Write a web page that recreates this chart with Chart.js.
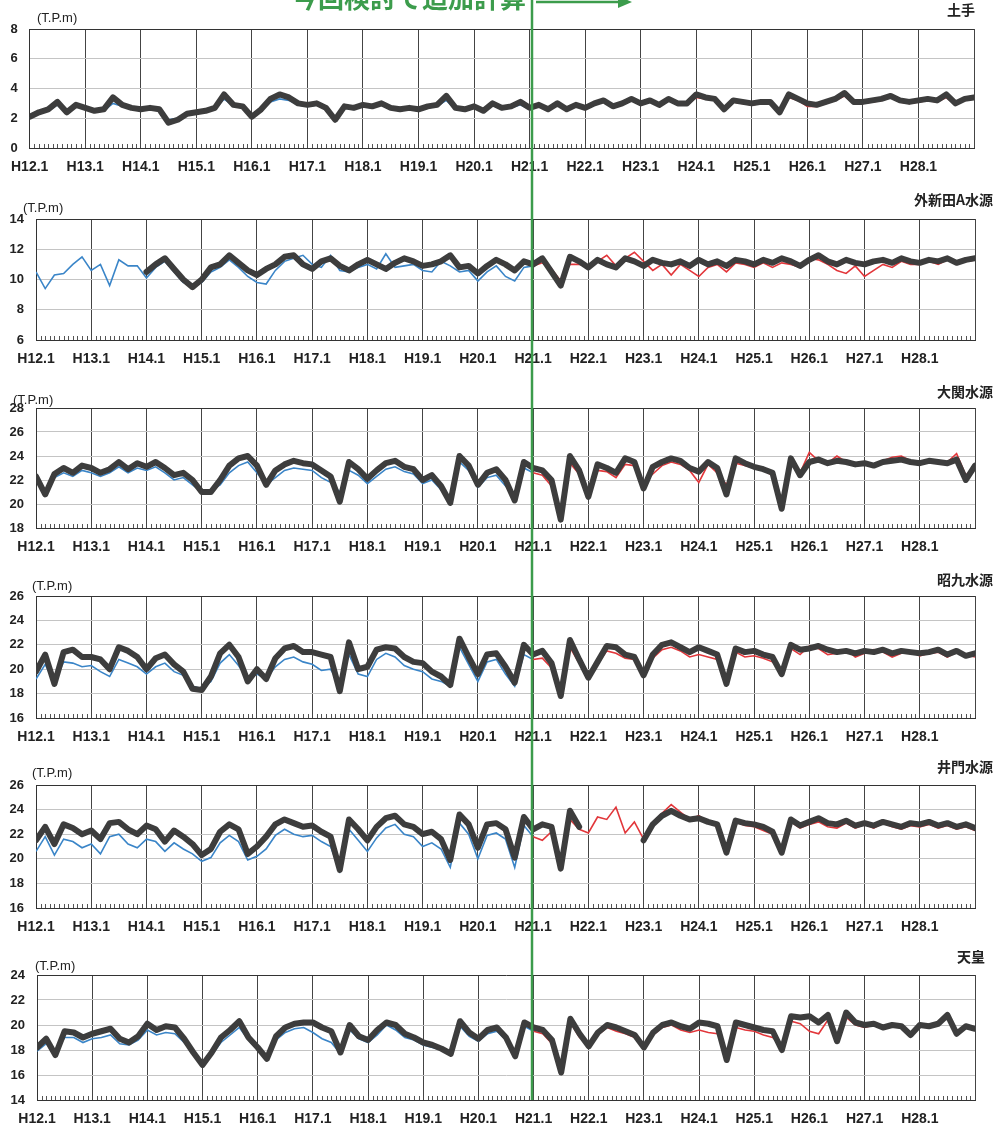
<!DOCTYPE html>
<html><head><meta charset="utf-8">
<script src="https://cdn.jsdelivr.net/npm/chart.js@4.4.1/dist/chart.umd.min.js"></script>
<style>
html,body{margin:0;padding:0;background:#fff;}
#wrap{position:relative;width:995px;height:1125px;overflow:hidden;background:#fff;}
.band{position:absolute;left:0;width:995px;}
</style></head><body><div id="wrap"></div>
<script>
// ---- data (values every 2 months: Jan, Mar, May, Jul, Sep, Nov) ----
const START_YEAR = 12, END_YEAR = 29, STEPS_PER_YEAR = 6, SPLIT_YEAR = 21;
const YEAR_TICKS = [12,13,14,15,16,17,18,19,20,21,22,23,24,25,26,27,28,29];
const PANEL_TITLES = ['土手','外新田A水源','大関水源','昭九水源','井門水源','天皇'];
const UNIT_LABEL = '(T.P.m)';
const BANNER = '今回検討で追加計算';

// 土手
const DOTE_OBS = [
 2.1,2.4,2.6,3.1,2.4,2.9, 2.7,2.5,2.6,3.4,2.9,2.7, 2.6,2.7,2.6,1.7,1.9,2.3,
 2.4,2.5,2.7,3.6,2.9,2.8, 2.1,2.6,3.3,3.6,3.4,3.0, 2.9,3.0,2.7,1.9,2.8,2.7,
 2.9,2.8,3.0,2.7,2.6,2.7, 2.6,2.8,2.9,3.5,2.7,2.6, 2.8,2.5,3.0,2.7,2.8,3.1,
 2.7,2.9,2.6,3.0,2.6,2.9, 2.7,3.0,3.2,2.8,3.0,3.3, 3.0,3.2,2.9,3.3,3.0,3.0,
 3.6,3.4,3.3,2.6,3.2,3.1, 3.0,3.1,3.1,2.4,3.6,3.3, 3.0,2.9,3.1,3.3,3.7,3.1,
 3.1,3.2,3.3,3.5,3.2,3.1, 3.2,3.3,3.2,3.6,3.0,3.3, 3.4];
const DOTE_PREV = [
 2.0,2.3,2.5,2.9,2.3,2.8, 2.6,2.4,2.5,3.0,2.8,2.6, 2.5,2.6,2.5,1.9,2.0,2.3,
 2.3,2.4,2.6,3.3,2.8,2.7, 2.2,2.5,3.1,3.3,3.2,2.9, 2.8,2.9,2.6,2.1,2.7,2.6,
 2.8,2.7,2.9,2.6,2.5,2.6, 2.5,2.7,2.8,3.2,2.6,2.5, 2.7,2.4,2.9,2.6,2.7,2.9, 2.6];
const DOTE_NEW = [
 2.6,2.8,2.5,2.9,2.5,2.8, 2.6,2.9,3.1,2.7,2.9,3.2, 2.9,3.1,2.8,3.2,2.9,2.9,
 3.4,3.3,3.2,2.7,3.1,3.0, 2.9,3.0,3.0,2.5,3.4,3.2, 2.8,2.8,3.0,3.2,3.5,3.0,
 3.0,3.1,3.2,3.4,3.1,3.0, 3.1,3.2,3.1,3.4,2.9,3.2, 3.3];

// 外新田A水源
const SOTO_OBS = [
 null,null,null,null,null,null, null,null,null,null,null,null,
 10.5,11.0,11.4,10.7,10.0,9.5, 10.0,10.8,11.0,11.6,11.1,10.6, 10.3,10.7,11.0,11.5,11.6,11.0,
 10.7,11.2,11.4,10.9,10.6,11.0, 11.3,11.0,10.7,11.1,11.4,11.2, 10.9,11.0,11.2,11.6,10.8,10.9,
 10.4,10.9,11.3,11.0,10.6,11.2, 11.0,11.4,10.5,9.6,11.5,11.2, 10.8,11.3,11.0,10.8,11.4,11.2,
 10.9,11.3,11.1,11.0,11.2,10.9, 11.3,11.0,11.2,10.9,11.3,11.2, 11.0,11.3,11.1,11.4,11.2,10.9,
 11.3,11.6,11.2,11.0,11.3,11.1, 11.0,11.2,11.3,11.1,11.4,11.2, 11.1,11.3,11.2,11.4,11.1,11.3, 11.4];
const SOTO_PREV = [
 10.5,9.4,10.3,10.4,11.0,11.5, 10.6,11.0,9.6,11.3,10.9,10.9, 10.1,10.8,11.2,10.5,9.8,9.7,
 9.8,10.5,10.8,11.3,10.8,10.2, 9.8,9.7,10.6,11.2,11.4,11.6, 11.0,10.8,11.6,10.6,10.5,10.8,
 11.0,10.7,11.7,10.8,10.9,11.0, 10.6,10.5,11.2,10.9,10.5,10.6, 9.9,10.5,10.9,10.2,9.9,10.8, 10.9];
const SOTO_NEW = [
 10.9,11.1,10.7,9.9,11.0,11.0, 10.9,11.2,11.6,10.9,11.4,11.8, 11.2,10.6,11.0,10.3,11.0,10.6,
 10.2,10.8,11.0,10.5,11.1,11.0, 10.8,11.1,10.8,11.1,11.0,10.8, 11.4,11.3,11.0,10.6,10.4,10.9,
 10.2,10.6,11.0,10.8,11.2,11.0, 11.0,11.2,11.0,11.3,11.0,11.2, 11.3];

// 大関水源
const OZEKI_OBS = [
 22.3,20.8,22.5,23.0,22.6,23.2, 23.0,22.6,22.9,23.5,22.9,23.4, 23.1,23.5,23.0,22.4,22.6,22.0,
 21.0,21.0,22.0,23.2,23.8,24.0, 23.2,21.6,22.8,23.3,23.6,23.4, 23.3,22.8,22.3,20.2,23.5,22.9,
 22.1,22.8,23.4,23.6,23.1,22.9, 22.0,22.4,21.5,20.1,24.0,23.2, 21.6,22.6,22.9,22.0,20.3,23.5,
 23.0,22.8,22.0,18.7,24.0,22.8, 20.6,23.3,23.0,22.6,23.8,23.5, 21.3,23.1,23.5,23.8,23.6,23.0,
 22.7,23.5,23.0,20.8,23.8,23.4, 23.1,22.9,22.6,19.6,23.8,22.4, 23.5,23.7,23.4,23.6,23.5,23.3,
 23.4,23.2,23.5,23.6,23.7,23.5, 23.4,23.6,23.5,23.4,23.7,22.0, 23.2];
const OZEKI_PREV = [
 22.0,21.0,22.2,22.6,22.3,22.8, 22.6,22.3,22.6,23.1,22.6,23.0, 22.8,23.1,22.6,22.0,22.2,21.6,
 21.0,21.1,21.6,22.6,23.2,23.5, 22.6,21.6,22.2,22.8,23.0,22.9, 22.8,22.2,21.8,21.0,22.8,22.4,
 21.7,22.3,22.9,23.1,22.7,22.5, 21.7,22.0,21.2,20.5,23.5,22.8, 21.4,22.2,22.4,21.5,20.8,23.0, 22.6];
const OZEKI_NEW = [
 22.6,22.4,21.5,19.5,23.4,22.5, 21.0,22.8,22.7,22.2,23.3,23.2, 21.8,22.5,23.2,23.5,23.3,22.8,
 21.8,23.3,22.6,21.6,23.4,23.2, 23.0,22.8,22.4,20.2,23.6,22.6, 24.3,23.6,23.4,24.0,23.5,23.4,
 23.5,23.3,23.6,23.9,24.0,23.6, 23.5,23.7,23.6,23.5,24.2,22.4, 23.0];

// 昭九水源
const SHOKU_OBS = [
 19.8,21.2,18.8,21.4,21.6,21.0, 21.0,20.8,20.0,21.8,21.5,21.0, 20.0,20.9,21.2,20.4,19.8,18.4,
 18.3,19.4,21.3,22.0,21.0,19.0, 20.0,19.2,20.9,21.7,21.9,21.4, 21.4,21.2,21.0,18.2,22.2,20.0,
 20.2,21.6,21.8,21.7,21.0,20.6, 20.5,19.8,19.4,18.7,22.5,21.0, 19.6,21.2,21.3,20.2,18.9,22.0,
 21.2,21.5,20.5,17.8,22.4,20.8, 19.3,20.6,21.9,21.8,21.2,21.0, 19.5,21.2,22.0,22.2,21.8,21.4,
 21.8,21.5,21.2,18.8,21.7,21.4, 21.5,21.2,21.0,19.6,22.0,21.6, 21.7,21.9,21.6,21.4,21.5,21.3,
 21.5,21.4,21.6,21.3,21.5,21.4, 21.3,21.4,21.6,21.2,21.5,21.1, 21.3];
const SHOKU_PREV = [
 19.2,20.4,18.9,20.6,20.5,20.2, 20.3,19.8,19.4,20.8,20.5,20.2, 19.6,20.2,20.5,19.8,19.5,18.6,
 18.4,19.0,20.5,21.2,20.3,19.2, 19.6,19.2,20.2,20.8,21.0,20.6, 20.4,19.9,20.0,18.8,21.2,19.6,
 19.4,20.8,21.3,21.0,20.3,20.0, 19.8,19.2,19.0,18.6,21.8,20.4, 19.0,20.6,20.8,19.6,18.6,21.2, 20.8];
const SHOKU_NEW = [
 20.8,20.9,20.1,18.2,21.8,20.5, 19.6,20.4,21.5,21.3,20.9,20.8, 19.8,20.9,21.6,21.8,21.5,21.0,
 21.2,21.0,20.8,19.2,21.4,21.0, 21.1,20.9,20.6,19.9,21.7,21.2, 21.9,21.7,21.2,21.3,21.6,21.0,
 21.3,21.6,21.4,21.0,21.3,21.5, 21.1,21.3,21.4,21.0,21.4,21.2, 21.0];

// 井門水源
const IDO_OBS = [
 21.5,22.6,21.2,22.8,22.5,22.0, 22.3,21.6,22.9,23.0,22.4,22.0, 22.7,22.4,21.4,22.3,21.8,21.2,
 20.3,20.8,22.2,22.8,22.4,20.4, 21.0,21.8,22.8,23.2,22.9,22.6, 22.7,22.2,21.8,19.1,23.2,22.4,
 21.5,22.6,23.3,23.5,22.8,22.6, 22.0,22.2,21.6,19.9,23.6,22.8, 20.9,22.8,22.9,22.4,20.1,23.4,
 22.4,22.8,22.6,19.2,23.9,22.6, null,null,null,null,null,null, 21.5,22.8,23.5,23.9,23.5,23.2,
 23.3,23.0,22.8,20.5,23.1,22.9, 22.8,22.6,22.2,20.5,23.2,22.7, 23.0,23.3,22.9,22.8,23.1,22.7,
 22.9,22.7,23.0,22.8,22.6,22.9, 22.8,23.0,22.7,22.9,22.6,22.8, 22.5];
const IDO_PREV = [
 20.6,21.8,20.3,21.6,21.4,20.9, 21.2,20.4,21.8,22.0,21.2,20.9, 21.6,21.4,20.6,21.3,20.8,20.4,
 19.8,20.1,21.3,21.9,21.4,19.9, 20.2,20.8,21.9,22.4,22.0,21.8, 21.9,21.4,21.0,19.0,22.4,21.5,
 20.6,21.7,22.5,22.8,22.0,21.8, 21.0,21.3,20.8,19.3,22.9,22.0, 20.0,21.9,22.1,21.6,19.3,22.7, 21.8];
const IDO_NEW = [
 21.8,21.5,22.2,19.5,23.2,22.4, 22.1,23.4,23.2,24.2,22.1,23.0, 21.6,22.9,23.7,24.4,23.8,23.2,
 23.5,23.0,22.6,20.8,23.0,22.7, 22.6,22.3,22.0,20.6,23.0,22.5, 22.8,23.0,22.6,22.5,22.9,22.5,
 22.8,22.5,22.9,22.6,22.4,22.7, 22.6,22.8,22.5,22.7,22.4,22.6, 22.3];

// 天皇
const TENNO_OBS = [
 18.2,18.9,17.6,19.5,19.4,19.0, 19.3,19.5,19.7,18.9,18.6,19.1, 20.1,19.6,19.9,19.8,18.9,17.8,
 16.8,17.8,19.0,19.6,20.3,19.0, 18.2,17.3,19.1,19.8,20.1,20.2, 20.2,19.8,19.5,17.8,20.0,19.1,
 18.8,19.6,20.2,20.0,19.3,19.0, 18.6,18.4,18.1,17.7,20.3,19.4, 18.9,19.6,19.8,19.0,17.5,20.2,
 19.8,19.6,18.8,16.2,20.5,19.3, 18.3,19.4,20.0,19.8,19.5,19.2, 18.2,19.4,20.0,20.2,19.9,19.7,
 20.2,20.1,19.9,17.2,20.2,20.0, 19.8,19.6,19.5,18.0,20.7,20.6, 20.7,20.2,20.8,18.7,21.0,20.2,
 20.0,20.1,19.8,20.0,19.9,19.2, 20.0,19.9,20.1,20.8,19.3,19.9, 19.7];
const TENNO_PREV = [
 17.9,18.5,17.8,19.0,19.0,18.6, 18.9,19.0,19.2,18.5,18.4,18.8, 19.6,19.2,19.4,19.3,18.6,17.8,
 17.0,17.6,18.6,19.2,19.8,18.8, 18.0,17.5,18.8,19.4,19.7,19.8, 19.4,18.9,18.6,17.7,19.6,18.9,
 18.6,19.2,20.0,19.6,19.0,18.8, 18.4,18.2,18.0,17.8,19.9,19.1, 18.7,19.3,19.5,18.8,17.6,19.9, 19.5];
const TENNO_NEW = [
 19.5,19.3,18.5,16.5,20.2,19.0, 18.5,19.2,19.8,19.5,19.3,19.0, 18.4,19.2,19.8,20.0,19.6,19.4,
 19.6,19.4,19.3,17.6,19.8,19.6, 19.5,19.2,19.0,18.3,20.3,20.1, 19.5,19.3,20.4,19.0,20.6,20.0,
 19.8,20.0,19.7,19.9,19.8,19.4, 19.9,19.8,20.0,20.6,19.5,19.8, 19.6];

const Y_RANGES = [[0,8],[6,14],[18,28],[16,26],[16,26],[14,24]];

// ---- layout (pixels) ----
const GREEN_X = 532;   // position of the hand-drawn divider across all panels
const PANELS = [
 {obs:DOTE_OBS, prev:DOTE_PREV, next:DOTE_NEW, band:[0,188], top:29, bottom:148, left:27, right:974, unitX:37, unitDy:-11, titleX:975, titleDy:-19},
 {obs:SOTO_OBS, prev:SOTO_PREV, next:SOTO_NEW, band:[188,378], top:219, bottom:340, left:36, right:975, unitX:23, unitDy:-11, titleX:993, titleDy:-19},
 {obs:OZEKI_OBS, prev:OZEKI_PREV, next:OZEKI_NEW, band:[378,567], top:408, bottom:528, left:36, right:975, unitX:13, unitDy:-8, titleX:993, titleDy:-16},
 {obs:SHOKU_OBS, prev:SHOKU_PREV, next:SHOKU_NEW, band:[567,757], top:596, bottom:718, left:36, right:975, unitX:32, unitDy:-10, titleX:993, titleDy:-16},
 {obs:IDO_OBS, prev:IDO_PREV, next:IDO_NEW, band:[757,945], top:785, bottom:908, left:36, right:975, unitX:32, unitDy:-12, titleX:993, titleDy:-18},
 {obs:TENNO_OBS, prev:TENNO_PREV, next:TENNO_NEW, band:[945,1125], top:975, bottom:1100, left:37, right:975, unitX:35, unitDy:-9, titleX:985, titleDy:-18}
];

function toPoints(arr, startYear){ return arr.map((v,i)=>({x:startYear + i/STEPS_PER_YEAR, y:v})); }

const GREEN = '#3c9c4c';
const overlay = {
  id:'overlay',
  afterDraw(chart, args, o){
    const {ctx, chartArea:a, scales:{x}} = chart;
    ctx.save();
    // monthly minor ticks inside bottom edge
    ctx.strokeStyle = '#555'; ctx.lineWidth = 1; ctx.beginPath();
    for (let m = 1; m < (END_YEAR-START_YEAR)*12; m++){
      if (m % 12 === 0) continue;
      const px = Math.round(x.getPixelForValue(START_YEAR + m/12)) + 0.5;
      ctx.moveTo(px, a.bottom); ctx.lineTo(px, a.bottom - 4);
    }
    ctx.stroke();
    // unit label
    ctx.fillStyle = '#222'; ctx.textBaseline = 'middle';
    ctx.font = '13px "Liberation Sans", Arial, sans-serif'; ctx.textAlign = 'left';
    ctx.fillText(UNIT_LABEL, o.unitX, a.top + o.unitDy);
    // station title
    ctx.font = 'bold 14px "Noto Sans CJK JP", sans-serif'; ctx.textAlign = 'right';
    ctx.fillText(o.title, o.titleX, a.top + o.titleDy);
    // green divider
    const gx = GREEN_X;
    ctx.strokeStyle = GREEN; ctx.lineWidth = 2.5; ctx.beginPath();
    ctx.moveTo(gx, 0); ctx.lineTo(gx, o.last ? a.bottom : chart.height); ctx.stroke();
    if (o.first){
      ctx.fillStyle = GREEN; ctx.font = 'bold 26px "Noto Sans CJK JP", sans-serif';
      ctx.textAlign = 'right'; ctx.textBaseline = 'alphabetic';
      ctx.fillText(BANNER, gx - 6, 8);
      ctx.lineWidth = 2.5; ctx.beginPath(); ctx.moveTo(gx + 4, 2); ctx.lineTo(gx + 94, 2); ctx.stroke();
      ctx.beginPath(); ctx.moveTo(gx + 100, 2); ctx.lineTo(gx + 86, -4); ctx.lineTo(gx + 86, 8); ctx.closePath(); ctx.fill();
    }
    ctx.restore();
  }
};

const wrap = document.getElementById('wrap');
PANELS.forEach((p, k) => {
  const h = p.band[1] - p.band[0];
  const div = document.createElement('div');
  div.className = 'band'; div.style.top = p.band[0] + 'px'; div.style.height = h + 'px';
  const cv = document.createElement('canvas'); div.appendChild(cv); wrap.appendChild(div);
  const [ymin, ymax] = Y_RANGES[k];
  new Chart(cv, {
    type: 'line',
    data: { datasets: [
      {label:'obs', data: toPoints(p.obs, START_YEAR), borderColor:'#3d3d3d', borderWidth:6, pointRadius:0, tension:0, spanGaps:false, order:1, borderJoinStyle:'round', borderCapStyle:'round'},
      {label:'prev', data: toPoints(p.prev, START_YEAR), borderColor:'#3a85c8', borderWidth:1.6, pointRadius:0, tension:0, order:3},
      {label:'new', data: toPoints(p.next, SPLIT_YEAR), borderColor:'#e2363a', borderWidth:1.6, pointRadius:0, tension:0, order:2}
    ]},
    options: {
      responsive:true, maintainAspectRatio:false, animation:false, devicePixelRatio:1,
      layout:{ padding:{ top:p.top - p.band[0], right:995 - p.right, left:0, bottom:0 } },
      plugins:{ legend:{display:false}, tooltip:{enabled:false},
        overlay:{ title:PANEL_TITLES[k], unitX:p.unitX, unitDy:p.unitDy, titleX:p.titleX, titleDy:p.titleDy, first:k===0, last:k===PANELS.length-1 } },
      scales:{
        x:{ type:'linear', min:START_YEAR, max:END_YEAR,
          afterBuildTicks: s => { s.ticks = YEAR_TICKS.map(v => ({value:v})); },
          afterFit: s => { s.height = h - (p.bottom - p.band[0]); },
          grid:{ color:'#444', lineWidth:1, drawTicks:false },
          border:{ color:'#333', width:1 },
          ticks:{ autoSkip:false, maxRotation:0, padding:11, color:'#222',
            font:{ family:'"Liberation Sans", Arial, sans-serif', size:14, weight:'bold' },
            callback: v => v < END_YEAR ? 'H' + v + '.1' : '' } },
        y:{ min:ymin, max:ymax,
          afterFit: s => { s.width = p.left; },
          grid:{ color: c => (c.tick && (c.tick.value === ymin || c.tick.value === ymax)) ? '#333' : '#c4c4c4', lineWidth:1, drawTicks:false },
          border:{ color:'#333', width:1 },
          ticks:{ stepSize:2, padding:12, color:'#222',
            font:{ family:'"Liberation Sans", Arial, sans-serif', size:13, weight:'bold' } } }
      }
    },
    plugins:[overlay]
  });
});
</script></body></html>
